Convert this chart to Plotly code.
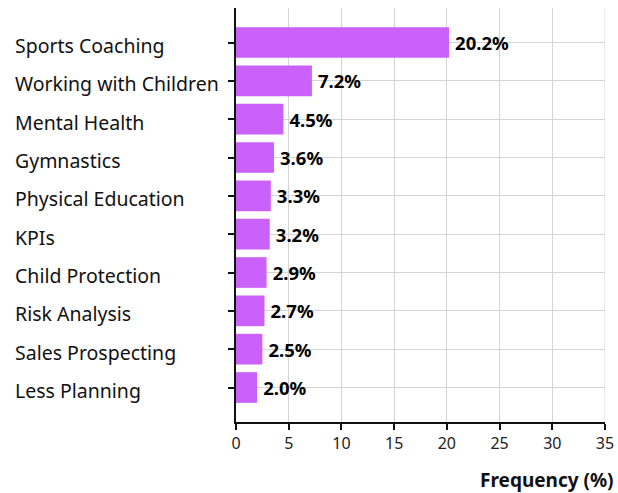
import plotly.graph_objects as go

categories = ["Sports Coaching", "Working with Children", "Mental Health", "Gymnastics",
              "Physical Education", "KPIs", "Child Protection", "Risk Analysis",
              "Sales Prospecting", "Less Planning"]
values = [20.2, 7.2, 4.5, 3.6, 3.3, 3.2, 2.9, 2.7, 2.5, 2.0]
x_ticks = [0, 5, 10, 15, 20, 25, 30, 35]

FONT = "Noto Sans"
fig = go.Figure()
fig.add_trace(go.Bar(
    x=values, y=categories, orientation="h", width=0.8,
    marker=dict(color="#c961fa", line=dict(width=0)),
    text=[f"<b>\u2009{v:.1f}%</b>" for v in values], textposition="outside",
    textfont=dict(family=FONT, size=18.5, color="#000"), cliponaxis=False,
))
for c in categories:
    fig.add_annotation(x=-0.599, xref="paper", y=c, yref="y", text=c, showarrow=False,
                       xanchor="left", yanchor="middle", xshift=-2, yshift=-3,
                       font=dict(family=FONT, size=19.5, color="#111"))
fig.add_annotation(x=1.03, xref="paper", y=-0.14, yref="paper", yanchor="middle", xanchor="right",
                   text="<b>Frequency (%)</b>", showarrow=False,
                   font=dict(family=FONT, size=19, color="#111"))
fig.update_layout(
    width=618, height=493, margin=dict(l=236, r=13, t=8, b=71),
    plot_bgcolor="white", paper_bgcolor="white", showlegend=False,
    font=dict(family=FONT, color="#111"),
    xaxis=dict(range=[0, 35], tickvals=x_ticks, showgrid=True, gridcolor="#d4d4d4", gridwidth=1,
               showline=True, linecolor="#111", linewidth=2, ticks="outside", ticklen=6,
               tickcolor="#111", tickwidth=2, tickfont=dict(family=FONT, size=16, color="#222"),
               zeroline=False, mirror=False, automargin=False),
    yaxis=dict(categoryorder="array", categoryarray=categories, range=[9.9, -0.9],
               showgrid=True, gridcolor="#d4d4d4", gridwidth=1, showticklabels=False,
               showline=True, linecolor="#111", linewidth=2, ticks="outside", ticklen=6,
               tickcolor="#111", tickwidth=2, zeroline=False, automargin=False),
)
fig.add_shape(type="line", xref="x", yref="paper", x0=35, x1=35, y0=0, y1=1,
              line=dict(color="#d4d4d4", width=1), layer="below")
fig.write_html("out.html", config={"displayModeBar": False},
               post_script="document.body.style.margin='0';document.body.style.overflow='hidden';")
